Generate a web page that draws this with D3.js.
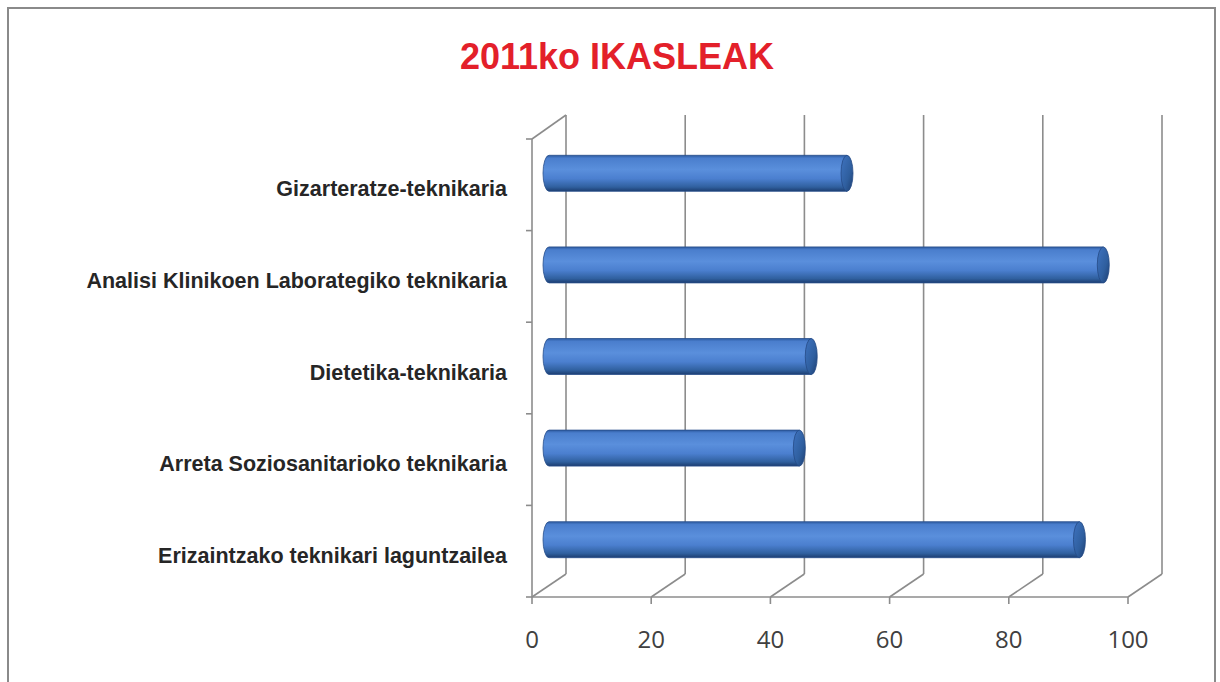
<!DOCTYPE html>
<html>
<head>
<meta charset="utf-8">
<script src="https://cdn.jsdelivr.net/npm/d3@7"></script>
<style>
  body { margin: 0; background: #fff; }
  svg { display: block; }
</style>
</head>
<body>
<div id="chart"></div>
<script>
const categories = [
    "Gizarteratze-teknikaria",
    "Analisi Klinikoen Laborategiko teknikaria",
    "Dietetika-teknikaria",
    "Arreta Soziosanitarioko teknikaria",
    "Erizaintzako teknikari laguntzailea"
];
const values = [50, 93, 44, 42, 89];
const xTicks = [0, 20, 40, 60, 80, 100];

const W = 1220, H = 682;
const depth = { x: 34, y: -23 };

const svg = d3.select("#chart")
    .append("svg")
    .attr("width", W)
    .attr("height", H);

// frame
svg.append("rect")
    .attr("x", 8).attr("y", 8)
    .attr("width", 1207).attr("height", 690)
    .attr("fill", "#fff")
    .attr("stroke", "#8a8a8a")
    .attr("stroke-width", 2);

const x = d3.scaleLinear().domain([0, 100]).range([532, 1128]);
const y = d3.scaleBand().domain(categories).range([139, 597]).padding(0);
const floorY = 597;

const defs = svg.append("defs");
const bodyGrad = defs.append("linearGradient")
    .attr("id", "cyl").attr("x1", 0).attr("y1", 0).attr("x2", 0).attr("y2", 1);
[[0, "#2c5aa0"], [0.08, "#4a7ecd"], [0.4, "#5a8fdc"], [0.65, "#4b7fcf"], [0.88, "#30609f"], [1, "#1c3d70"]]
    .forEach(([o, c]) => bodyGrad.append("stop").attr("offset", o).attr("stop-color", c));
const capGrad = defs.append("linearGradient")
    .attr("id", "cap").attr("x1", 0).attr("y1", 0).attr("x2", 1).attr("y2", 1);
[[0, "#3f73c0"], [0.6, "#2f5f9f"], [1, "#1d3f72"]]
    .forEach(([o, c]) => capGrad.append("stop").attr("offset", o).attr("stop-color", c));

// back wall gridlines
const grid = svg.append("g").attr("stroke", "#8c8c8c").attr("stroke-width", 1.6).attr("fill", "none");
xTicks.forEach(t => {
    grid.append("line")
        .attr("x1", x(t) + depth.x).attr("x2", x(t) + depth.x)
        .attr("y1", 115).attr("y2", floorY + depth.y);
    grid.append("line")
        .attr("x1", x(t)).attr("y1", floorY)
        .attr("x2", x(t) + depth.x).attr("y2", floorY + depth.y);
    grid.append("line")
        .attr("x1", x(t)).attr("x2", x(t))
        .attr("y1", floorY).attr("y2", floorY + 7);
});

// floor front edge
grid.append("line")
    .attr("x1", x(0)).attr("x2", x(100))
    .attr("y1", floorY).attr("y2", floorY);

// left wall
grid.append("line")
    .attr("x1", x(0)).attr("x2", x(0))
    .attr("y1", y.range()[0]).attr("y2", floorY);
grid.append("line")
    .attr("x1", x(0)).attr("y1", y.range()[0])
    .attr("x2", x(0) + depth.x).attr("y2", 115);
categories.forEach(c => {
    grid.append("line")
        .attr("x1", x(0) - 6).attr("x2", x(0))
        .attr("y1", y(c)).attr("y2", y(c));
});
grid.append("line")
    .attr("x1", x(0) - 6).attr("x2", x(0))
    .attr("y1", floorY).attr("y2", floorY);

// cylinders
const barH = 36, rx = 6;
categories.forEach((c, i) => {
    const cy = y(c) + y.bandwidth() / 2 + depth.y / 2;
    const x0 = x(0) + depth.x / 2;
    const x1 = x(values[i]) + depth.x / 2;
    const top = cy - barH / 2, bot = cy + barH / 2;
    svg.append("path")
        .attr("d", `M${x1},${top} L${x0},${top} A${rx},${barH / 2} 0 0 0 ${x0},${bot} L${x1},${bot} Z`)
        .attr("fill", "url(#cyl)")
        .attr("stroke", "#284f8c")
        .attr("stroke-width", 0.8);
    svg.append("ellipse")
        .attr("cx", x1).attr("cy", cy)
        .attr("rx", rx).attr("ry", barH / 2)
        .attr("fill", "url(#cap)")
        .attr("stroke", "#244a85")
        .attr("stroke-width", 0.8);
});

// category labels
svg.append("g")
    .selectAll("text")
    .data(categories)
    .join("text")
    .attr("x", 507)
    .attr("y", d => y(d) + y.bandwidth() / 2 + 4)
    .attr("dy", "0.35em")
    .attr("text-anchor", "end")
    .attr("font-family", "Liberation Sans, Arial, sans-serif")
    .attr("font-weight", "bold")
    .attr("font-size", "21.5px")
    .attr("fill", "#262626")
    .text(d => d);

// x tick labels
svg.append("g")
    .selectAll("text")
    .data(xTicks)
    .join("text")
    .attr("x", d => x(d))
    .attr("y", 648)
    .attr("text-anchor", "middle")
    .attr("font-family", "Open Sans, sans-serif")
    .attr("font-size", "24px")
    .attr("fill", "#404040")
    .text(d => d);

// title
svg.append("text")
    .attr("x", 617)
    .attr("y", 69)
    .attr("text-anchor", "middle")
    .attr("font-family", "Liberation Sans, Arial, sans-serif")
    .attr("font-weight", "bold")
    .attr("font-size", "36px")
    .attr("fill", "#e3202a")
    .text("2011ko IKASLEAK");
</script>
</body>
</html>
